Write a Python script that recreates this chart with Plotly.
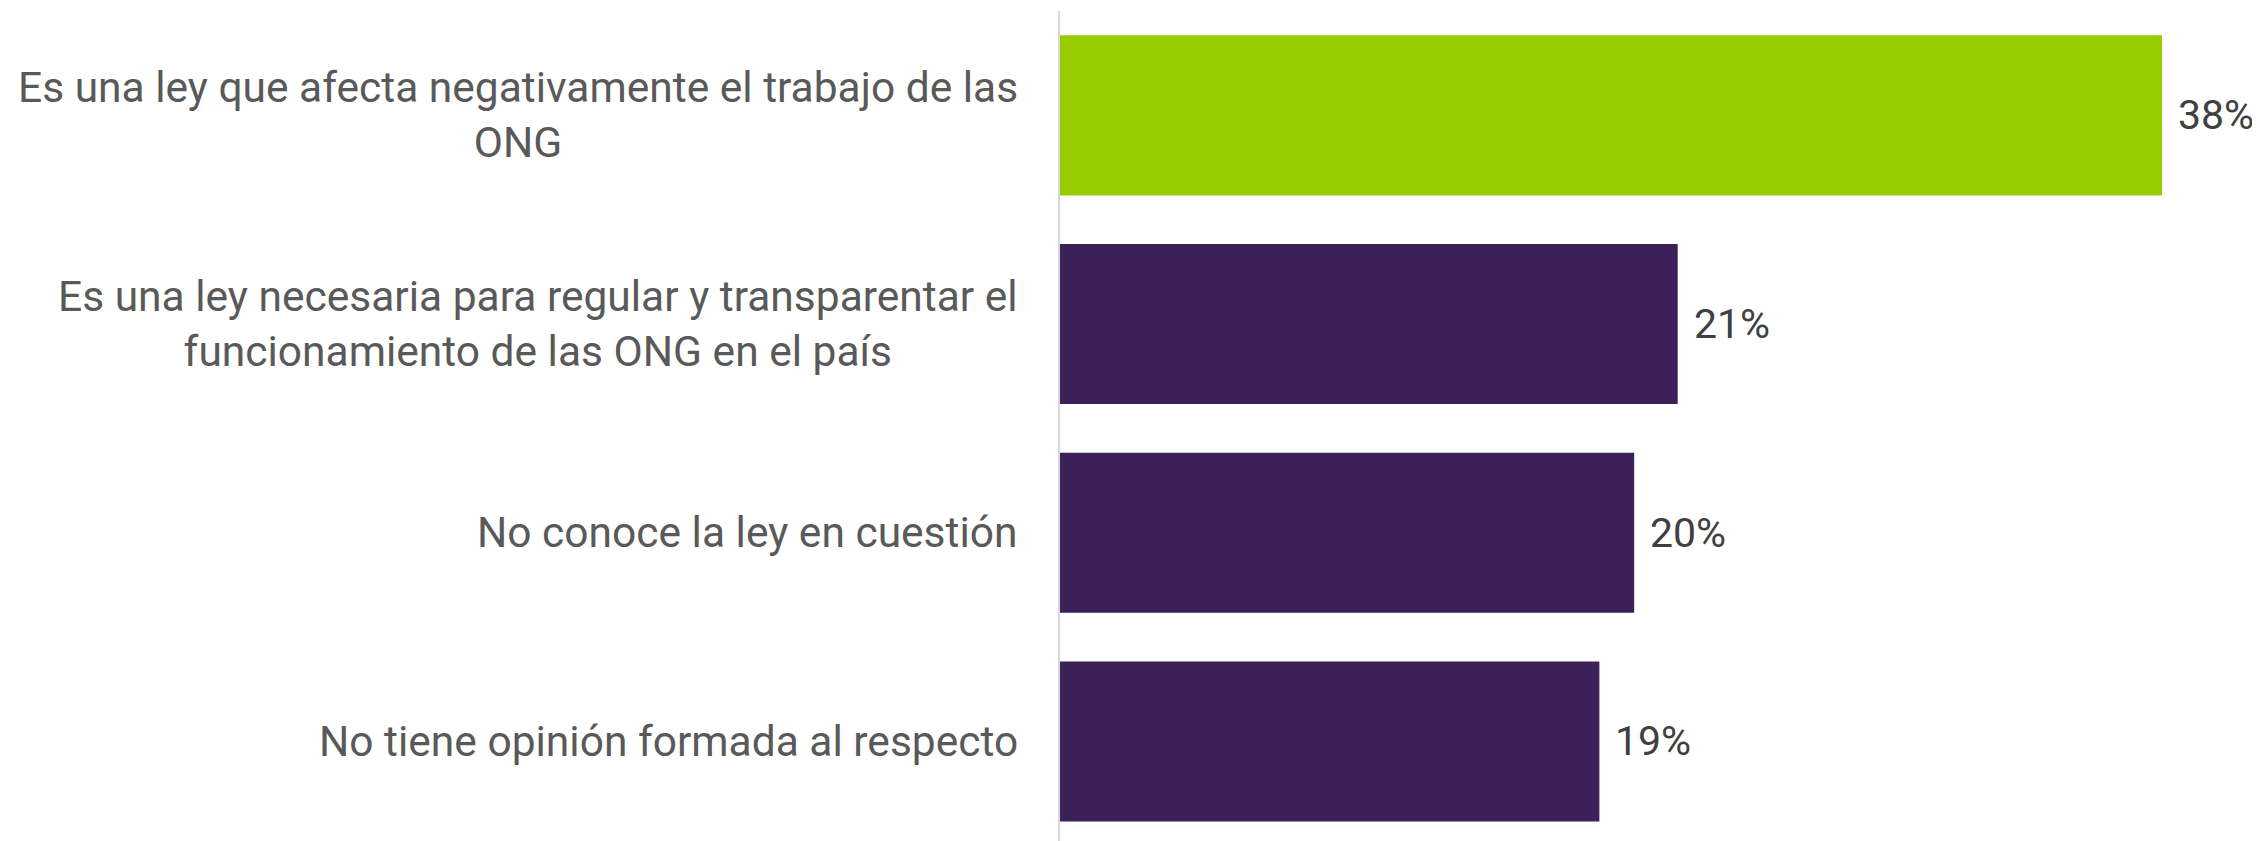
import plotly.graph_objects as go

categories = [
    "Es una ley que afecta negativamente el trabajo de las<br>ONG",
    "Es una ley necesaria para regular y transparentar el<br>funcionamiento de las ONG en el país",
    "No conoce la ley en cuestión",
    "No tiene opinión formada al respecto",
]
values = [38.0, 21.3, 19.8, 18.6]
value_labels = ["38%", "21%", "20%", "19%"]
bar_colors = ["#99cc00", "#3c2059", "#3c2059", "#3c2059"]

fig = go.Figure()
fig.add_trace(go.Bar(
    x=values,
    y=categories,
    orientation="h",
    marker=dict(color=bar_colors, line=dict(width=0)),
    width=0.767,
    hoverinfo="skip",
))

annotations = []
for cat, val, lab in zip(categories, values, value_labels):
    annotations.append(dict(
        x=val, y=cat, xref="x", yref="y", text=lab, showarrow=False,
        xanchor="left", yanchor="middle", xshift=14,
        font=dict(family="Roboto", size=41, color="#404040"),
    ))
    annotations.append(dict(
        x=0, y=cat, xref="paper", yref="y", text=cat, showarrow=False,
        xanchor="right", yanchor="middle", xshift=-40, align="center",
        font=dict(family="Roboto", size=42.5, color="#595959"),
    ))

fig.update_layout(
    width=2252, height=833,
    margin=dict(l=1052, r=0, t=3, b=0),
    paper_bgcolor="white", plot_bgcolor="white",
    showlegend=False,
    annotations=annotations,
    xaxis=dict(range=[0, 41.38], visible=False, fixedrange=True),
    yaxis=dict(
        categoryorder="array", categoryarray=categories,
        range=[3.477, -0.5],
        showticklabels=False, showgrid=False, zeroline=False,
        showline=True, linecolor="#d9d9d9", linewidth=2,
        ticks="",
    ),
    font=dict(family="Roboto"),
)

fig.write_html("out.html")
